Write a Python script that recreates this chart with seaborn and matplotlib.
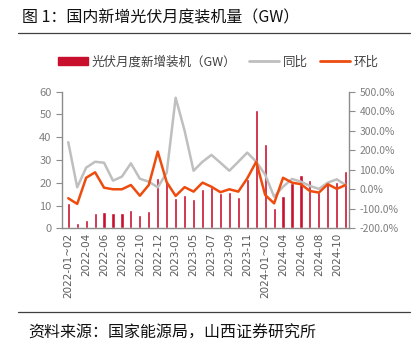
import numpy as np
import pandas as pd
import seaborn as sns
import matplotlib.pyplot as plt
from matplotlib.lines import Line2D
from matplotlib.patches import Patch
from matplotlib.ticker import FixedLocator, FuncFormatter

# monthly categories (Jan-Feb combined)
months = ['2022-01~02', '2022-03', '2022-04', '2022-05', '2022-06', '2022-07', '2022-08',
          '2022-09', '2022-10', '2022-11', '2022-12', '2023-01~02', '2023-03', '2023-04',
          '2023-05', '2023-06', '2023-07', '2023-08', '2023-09', '2023-10', '2023-11',
          '2023-12', '2024-01~02', '2024-03', '2024-04', '2024-05', '2024-06', '2024-07',
          '2024-08', '2024-09', '2024-10', '2024-11']
# new PV installations, GW
installs = [11.0, 2.5, 3.6, 6.7, 7.0, 6.7, 6.7, 8.0, 5.8, 7.4, 21.9, 20.5, 13.4, 14.7,
            13.0, 17.2, 18.3, 15.6, 15.9, 13.6, 21.5, 52.0, 37.0, 9.1, 14.2, 19.8,
            23.4, 21.2, 16.1, 20.8, 20.5, 25.2]
# year on year, %
yoy = [241, 10, 111, 141, 136, 44, 65, 133, 54, 39, 10, 85, 469, 300, 95, 141, 176,
       136, 95, 141, 188, 141, 75, -38, 13, 53, 39, 17, 2, 34, 51, 22]
# month on month, %
mom = [-46, -75, 59, 87, 8, 0, 0, 22, -33, 22, 193, 36, -34, 11, -12, 34, 13, -15,
       0, -12, 56, 141, -29, -72, 59, 34, 26, -9, -17, 26, 2, 22]

df = pd.DataFrame({'month': months, 'installs': installs, 'yoy': yoy, 'mom': mom})
df['pos'] = np.arange(len(df))

sns.set_style('white')
plt.rcParams['font.family'] = ['Noto Sans CJK SC', 'DejaVu Sans']

bar_color = '#C8102E'
gray_color = '#BFBFBF'
orange_color = '#EE4C0E'
axis_gray = '#8C8C8C'

fig = plt.figure(figsize=(4.2, 3.52), dpi=100)
ax = fig.add_axes([0.1476, 0.3514, 0.6834, 0.3881])

sns.barplot(data=df, x='month', y='installs', order=months, color=bar_color,
            width=0.35, saturation=1, ax=ax)

ax2 = ax.twinx()
sns.lineplot(data=df, x='pos', y='yoy', color=gray_color, lw=1.8, ax=ax2)
sns.lineplot(data=df, x='pos', y='mom', color=orange_color, lw=1.8, ax=ax2)

ax.set_xlim(-0.7, 31.37)
ax.set_ylim(0, 60)
ax.set_yticks(range(0, 61, 10))
ax2.set_ylim(-200, 500)
ax2.set_yticks(range(-200, 501, 100))
ax2.yaxis.set_major_formatter(FuncFormatter(lambda v, p: f'{v:.1f}%'))

ax.set_xticks(range(0, len(months), 2))
ax.set_xticklabels(months[::2], rotation=90, fontsize=7.5, color='#595959',
                   family='DejaVu Sans')
ax.xaxis.set_minor_locator(FixedLocator(np.arange(-0.5, len(months), 1)))
ax.tick_params(axis='x', which='major', length=0, pad=3)
ax.tick_params(axis='x', which='minor', length=3, color=axis_gray, width=0.8, direction='out')
ax.tick_params(axis='y', length=4, color=axis_gray, width=0.8, labelsize=8,
               labelcolor='#7F7F7F', direction='out', left=True)
ax2.tick_params(axis='y', length=4, color=axis_gray, width=0.8, labelsize=7.5,
                labelcolor='#7F7F7F', direction='out', right=True)

for a in (ax, ax2):
    a.set_xlabel('')
    a.set_ylabel('')
    a.spines['top'].set_visible(False)
    for s in ('left', 'right', 'bottom'):
        a.spines[s].set_color(axis_gray)
        a.spines[s].set_linewidth(1.0)
ax.spines['right'].set_visible(False)
ax2.spines['left'].set_visible(False)
ax2.spines['bottom'].set_visible(False)

handles = [Patch(color=bar_color),
           Line2D([0], [0], color=gray_color, lw=2),
           Line2D([0], [0], color=orange_color, lw=2)]
labels = ['光伏月度新增装机（GW）', '同比', '环比']
fig.legend(handles=handles, labels=labels, loc='center', bbox_to_anchor=(0.52, 0.824),
           ncol=3, frameon=False, fontsize=9, handlelength=2.4, handleheight=0.5,
           handletextpad=0.3, columnspacing=1.0, labelcolor='#404040')

fig.text(0.052, 0.948, '图 1：国内新增光伏月度装机量（GW）', fontsize=11.5,
         ha='left', va='center', color='#111111')
fig.add_artist(Line2D([0.043, 0.976], [0.906, 0.906], color='#404040', lw=0.9))
fig.add_artist(Line2D([0.043, 0.976], [0.114, 0.114], color='#404040', lw=0.9))
fig.text(0.067, 0.054, '资料来源：国家能源局，山西证券研究所', fontsize=11.5,
         ha='left', va='center', color='#111111')

fig.savefig('out.png', dpi=100)
